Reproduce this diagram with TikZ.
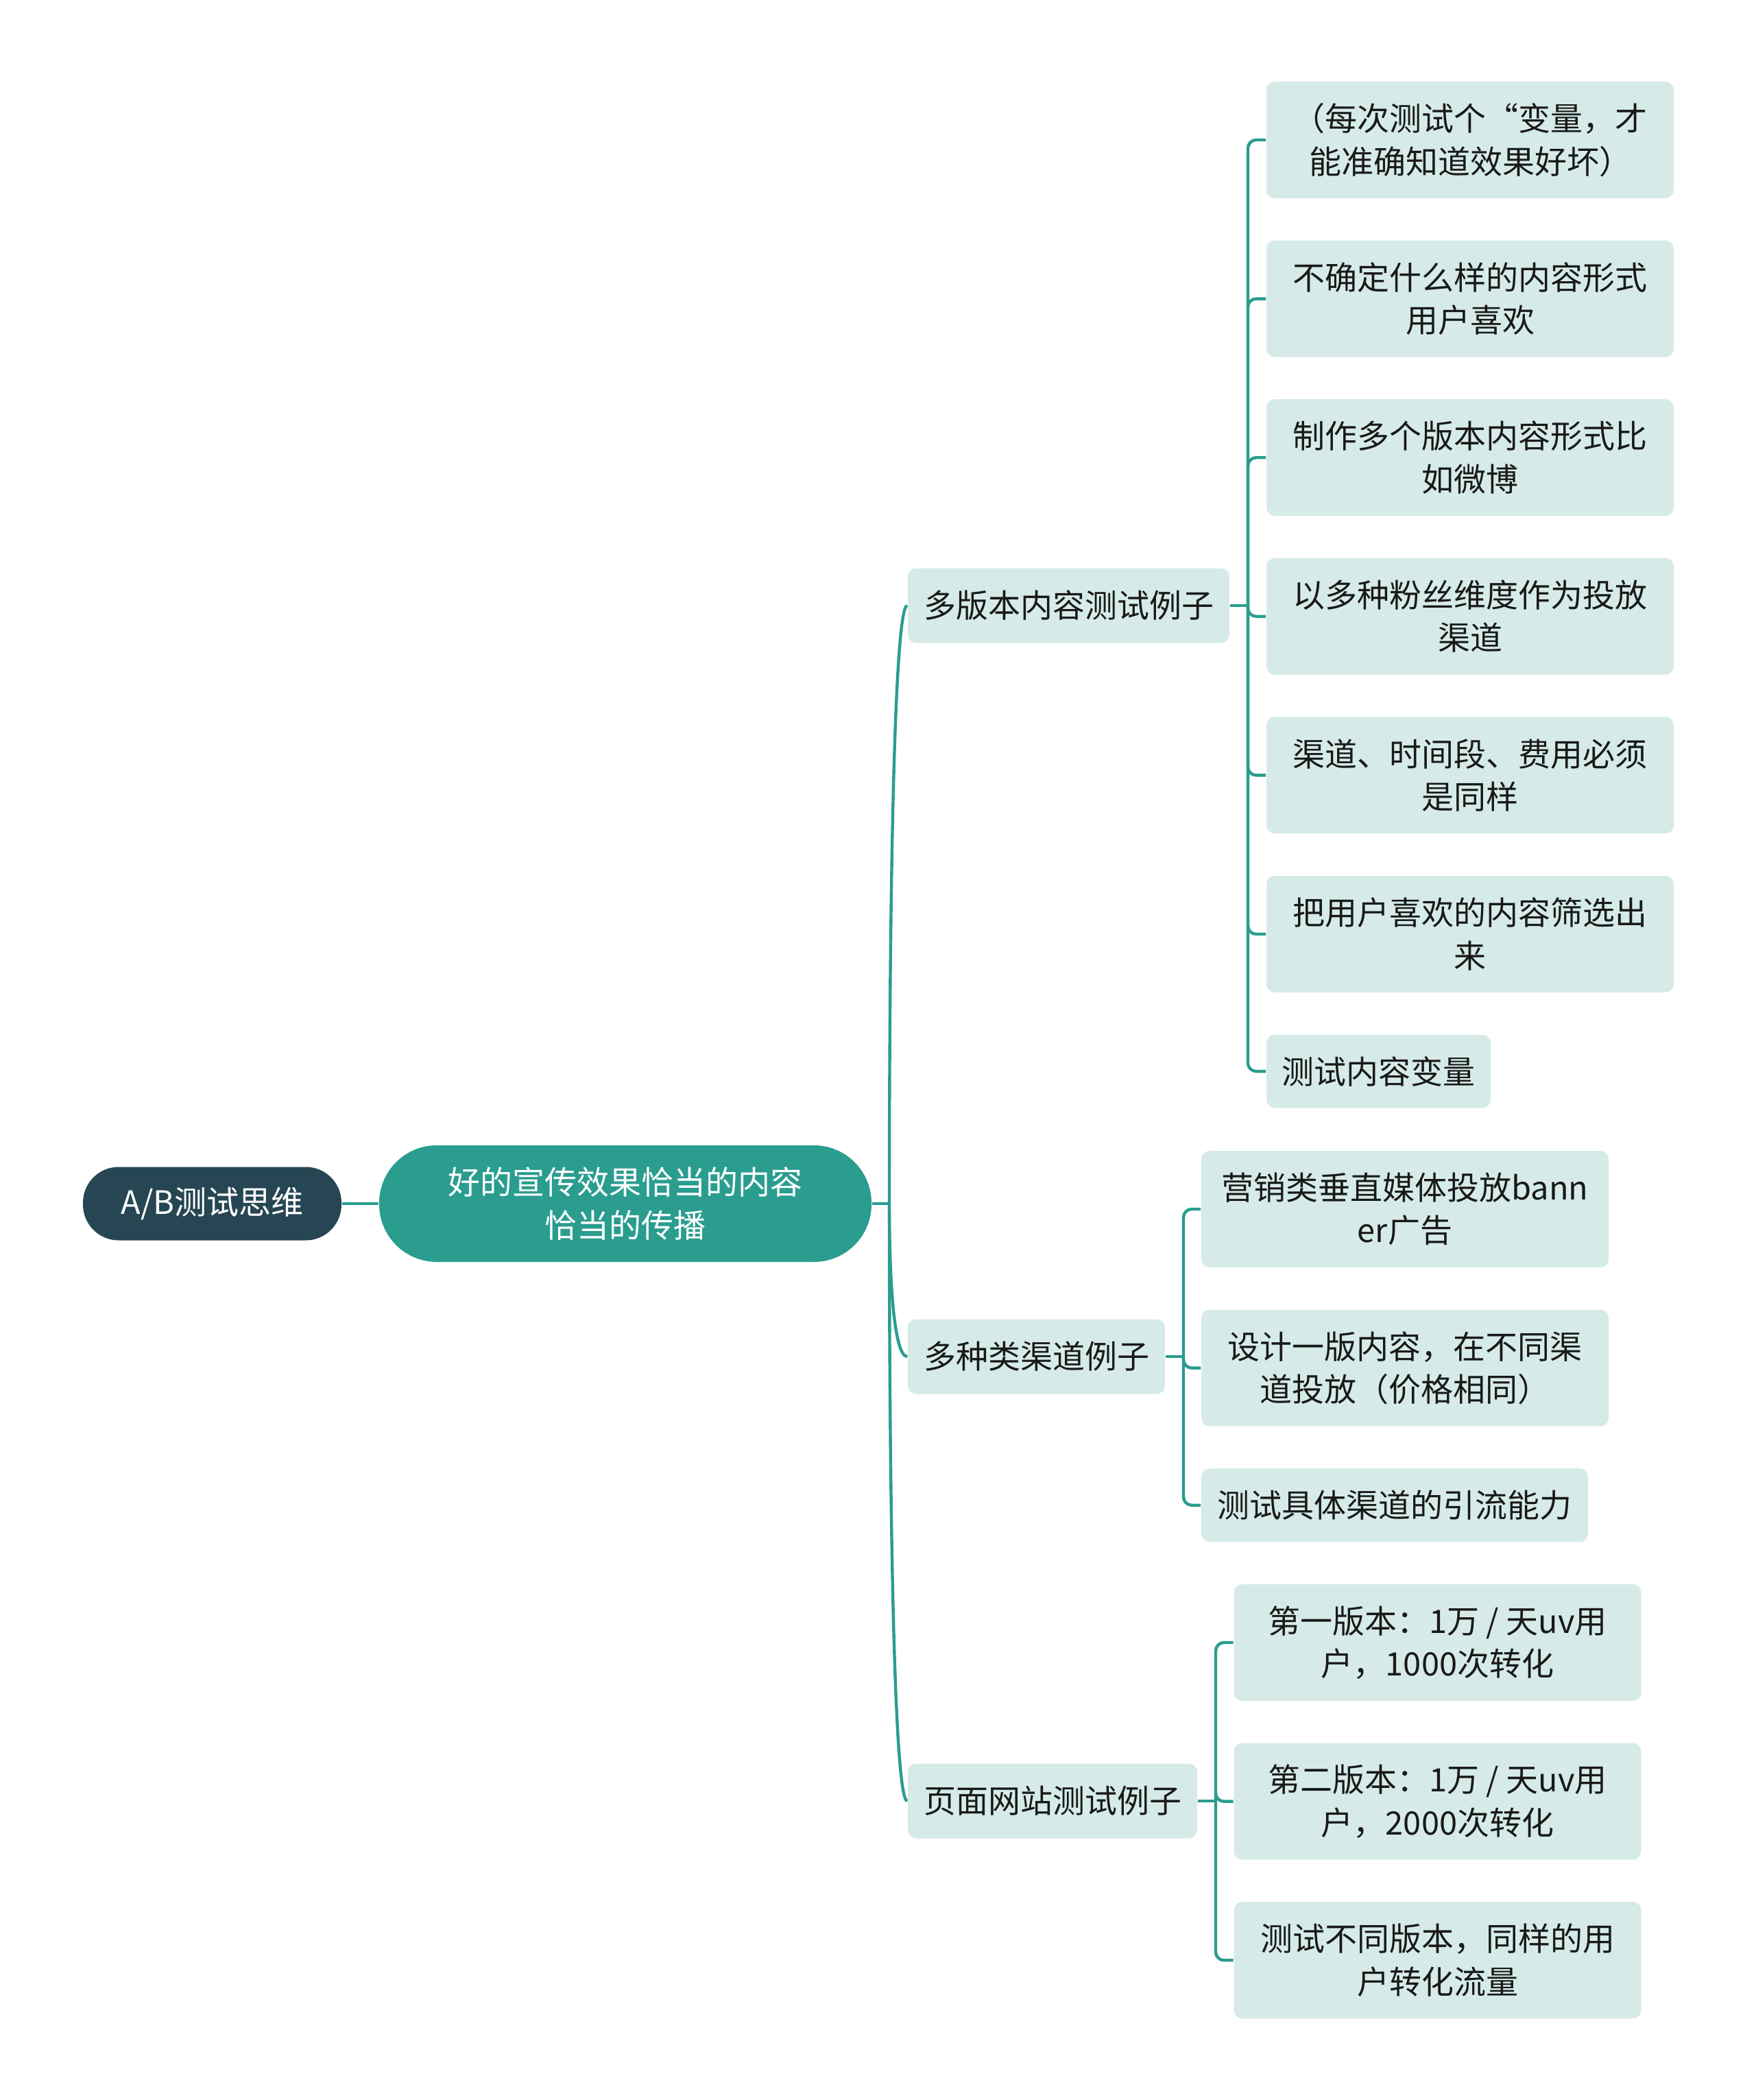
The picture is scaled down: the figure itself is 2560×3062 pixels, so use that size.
\documentclass[tikz,border=0pt]{standalone}
\usepackage{fontspec}
\setmainfont{Noto Sans CJK SC}
\usetikzlibrary{positioning}

\definecolor{rootfill}{HTML}{264653}
\definecolor{mainfill}{HTML}{2A9D8F}
\definecolor{leaffill}{HTML}{D6EBE8}
\definecolor{linkcol}{HTML}{2A9D8F}

\begin{document}
\begin{tikzpicture}[
        x=0.25pt, y=-0.25pt,
        node distance=15pt,
        every node/.style={font=\fontsize{11.75pt}{15.6pt}\selectfont, align=center, inner sep=0pt},
        rootnode/.style={fill=rootfill, text=white, rounded corners=13pt, minimum width=94.25pt, minimum height=26.75pt},
        topic/.style={fill=mainfill, text=white, rounded corners=21pt, minimum width=179.5pt, minimum height=42.5pt},
        branch/.style={fill=leaffill, text=black!90, rounded corners=3pt, minimum height=27.25pt},
        leaf/.style={fill=leaffill, text=black!90, rounded corners=3pt, minimum width=148.5pt, minimum height=42.5pt},
        smallleaf/.style={leaf, minimum height=26.75pt},
        link/.style={draw=linkcol, line width=1.1pt},
        fork/.style={link, rounded corners=3pt}
    ]
        \useasboundingbox (0,0) rectangle (2560,3062);

        \node[rootnode] (root) at (309.5,1755) {A/B测试思维};
        \node[topic] (main) at (912,1755) {好的宣传效果恰当的内容\\恰当的传播};

        \node[branch, minimum width=117.25pt] (ver_test) at (1558.5,883) {多版本内容测试例子};
        \node[branch, minimum width=93.75pt] (chan_test) at (1511.5,1978) {多种类渠道例子};
        \node[branch, minimum width=105.5pt] (page_test) at (1535,2626) {页面网站测试例子};

        % content versions
        \node[leaf] (ver_1) at (2144,204) {（每次测试个“变量，才\\能准确知道效果好坏）};
        \node[leaf, below=of ver_1] (ver_2) {不确定什么样的内容形式\\用户喜欢};
        \node[leaf, below=of ver_2] (ver_3) {制作多个版本内容形式比\\如微博};
        \node[leaf, below=of ver_3] (ver_4) {以多种粉丝维度作为投放\\渠道};
        \node[leaf, below=of ver_4] (ver_5) {渠道、时间段、费用必须\\是同样};
        \node[leaf, below=of ver_5] (ver_6) {把用户喜欢的内容筛选出\\来};
        \node[smallleaf, minimum width=81.75pt, below=of ver_6.south west, anchor=north west] (ver_7) {测试内容变量};

        % channels
        \node[leaf] (chan_1) at (2049,1763) {营销类垂直媒体投放bann\\er广告};
        \node[leaf, below=of chan_1] (chan_2) {设计一版内容，在不同渠\\道投放（价格相同）};
        \node[smallleaf, minimum width=141pt, below=of chan_2.south west, anchor=north west] (chan_3) {测试具体渠道的引流能力};

        % page versions
        \node[leaf] (page_1) at (2096.5,2395) {第一版本：1万 / 天uv用\\户，1000次转化};
        \node[leaf, below=of page_1] (page_2) {第二版本：1万 / 天uv用\\户，2000次转化};
        \node[leaf, below=of page_2] (page_3) {测试不同版本，同样的用\\户转化流量};

        \coordinate (main_fork) at (1297,1755);
        \coordinate (ver_fork) at (1820,883);
        \coordinate (chan_fork) at (1726,1978);
        \coordinate (page_fork) at (1773,2626);

        \draw[link] (root) -- (main);
        \draw[link] (main) -- (main_fork);
        \draw[link] (main_fork) .. controls +(0,-455) and +(-19,0) .. (ver_test.west);
        \draw[link] (main_fork) .. controls +(0,116) and +(-19,0) .. (chan_test.west);
        \draw[link] (main_fork) .. controls +(0,455) and +(-19,0) .. (page_test.west);

        \draw[link] (ver_test) -- (ver_fork);
        \foreach \k in {1,...,7}
            \draw[fork] (ver_fork) |- (ver_\k.west);

        \draw[link] (chan_test) -- (chan_fork);
        \foreach \k in {1,2,3}
            \draw[fork] (chan_fork) |- (chan_\k.west);

        \draw[link] (page_test) -- (page_fork);
        \foreach \k in {1,2,3}
            \draw[fork] (page_fork) |- (page_\k.west);

    \end{tikzpicture}
\end{document}
